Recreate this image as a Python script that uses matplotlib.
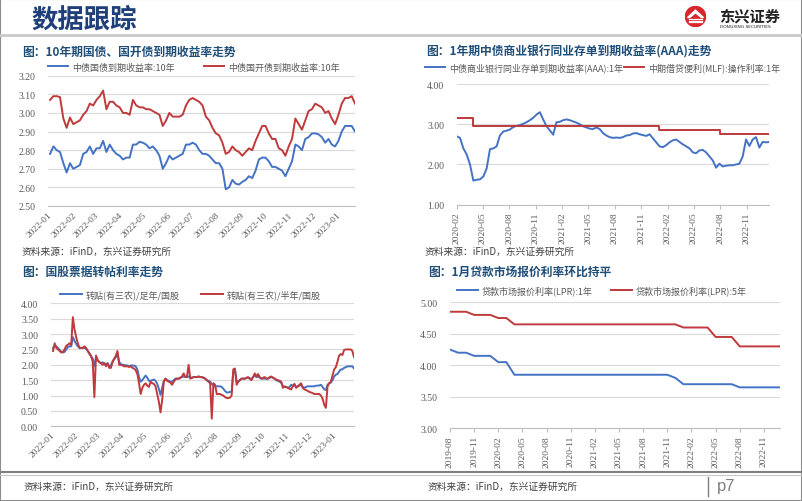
import numpy as np
import pandas as pd
import matplotlib
matplotlib.use('Agg')
import matplotlib.pyplot as plt
from matplotlib.ticker import FormatStrFormatter
from matplotlib.lines import Line2D
from matplotlib.patches import Circle, Rectangle, Polygon

# ---- data ----
# panel 1: 10y yields, 2022-01 .. 2023-01
cgb_10y = [2.78, 2.82, 2.80, 2.79, 2.73, 2.68, 2.73, 2.70, 2.71, 2.72,
           2.78, 2.79, 2.82, 2.78, 2.81, 2.81, 2.85, 2.79, 2.83, 2.80,
           2.78, 2.77, 2.75, 2.76, 2.76, 2.83, 2.83, 2.845, 2.84, 2.83,
           2.81, 2.82, 2.80, 2.77, 2.70, 2.73, 2.77, 2.75, 2.76, 2.77,
           2.78, 2.83, 2.83, 2.84, 2.83, 2.80, 2.78, 2.78, 2.77, 2.75,
           2.73, 2.73, 2.70, 2.59, 2.60, 2.64, 2.62, 2.615, 2.63, 2.64,
           2.66, 2.65, 2.69, 2.75, 2.76, 2.76, 2.74, 2.71, 2.71, 2.70,
           2.69, 2.66, 2.70, 2.74, 2.83, 2.82, 2.80, 2.86, 2.87, 2.89,
           2.89, 2.885, 2.87, 2.84, 2.86, 2.83, 2.82, 2.85, 2.90, 2.93,
           2.93, 2.93, 2.90]
cdb_10y = [3.07, 3.09, 3.09, 3.085, 2.97, 2.92, 2.975, 2.94, 2.95, 2.96,
           2.99, 3.01, 3.05, 3.04, 3.07, 3.09, 3.12, 3.02, 3.06, 3.06,
           3.04, 3.03, 3.00, 3.00, 2.99, 3.07, 3.04, 3.03, 3.03, 3.02,
           3.02, 3.01, 3.00, 2.99, 2.93, 2.96, 3.00, 2.98, 2.98, 2.98,
           2.99, 3.04, 3.07, 3.08, 3.07, 3.06, 3.04, 2.98, 2.96, 2.92,
           2.89, 2.88, 2.84, 2.78, 2.79, 2.82, 2.80, 2.79, 2.77, 2.79,
           2.81, 2.80, 2.85, 2.89, 2.93, 2.93, 2.89, 2.86, 2.86, 2.81,
           2.80, 2.77, 2.82, 2.86, 2.97, 2.94, 2.91, 2.96, 3.01, 3.02,
           3.05, 3.04, 3.03, 3.00, 3.01, 2.97, 2.94, 2.99, 3.05, 3.08,
           3.08, 3.09, 3.05]

# panel 2: 1y AAA NCD yield and MLF rate
ncd_1y = [2.70, 2.66, 2.40, 2.25, 2.00, 1.60, 1.62, 1.63, 1.70, 1.90,
          2.38, 2.40, 2.45, 2.72, 2.82, 2.84, 2.87, 2.93, 2.96, 2.98,
          3.01, 3.05, 3.10, 3.16, 3.24, 3.30, 3.12, 2.95, 2.85, 2.74,
          3.05, 3.06, 3.10, 3.12, 3.10, 3.07, 3.04, 3.00, 2.95, 2.92,
          2.89, 2.88, 2.92, 2.88, 2.78, 2.72, 2.68, 2.66, 2.67, 2.66,
          2.68, 2.72, 2.73, 2.77, 2.78, 2.75, 2.73, 2.71, 2.75, 2.65,
          2.55, 2.45, 2.43, 2.48, 2.55, 2.60, 2.62, 2.56, 2.50, 2.45,
          2.40, 2.30, 2.28, 2.35, 2.36, 2.30, 2.20, 2.10, 1.92, 2.02,
          1.95, 1.97, 1.98, 1.98, 2.00, 2.02, 2.20, 2.62, 2.46, 2.62,
          2.68, 2.42, 2.56, 2.55, 2.56]
mlf_dates = ['2020-02-17', '2020-04-15', '2022-01-17', '2022-08-15', '2023-02-03']
mlf_rate = [3.15, 2.95, 2.85, 2.75, 2.75]

# panel 3: bill rediscount rates
bill_full = [2.55, 2.62, 2.60, 2.55, 2.48, 2.43, 2.40, 2.42, 2.50, 2.58,
             2.60, 2.60, 2.90, 2.78, 2.68, 2.60, 2.55, 2.55, 2.55, 2.55,
             2.52, 2.45, 2.35, 2.28, 2.20, 1.95, 2.25, 2.15, 2.10, 2.05,
             2.08, 2.05, 2.02, 2.05, 1.95, 1.98, 2.10, 2.18, 2.25, 2.35,
             2.10, 2.02, 2.00, 2.00, 1.98, 1.98, 1.95, 1.98, 1.98, 1.97,
             1.95, 1.85, 1.60, 1.45, 1.50, 1.58, 1.65, 1.58, 1.48, 1.48,
             1.50, 1.52, 1.48, 1.38, 1.22, 1.02, 1.25, 1.48, 1.55, 1.50,
             1.48, 1.45, 1.45, 1.50, 1.55, 1.55, 1.55, 1.58, 1.60, 1.62,
             1.60, 1.60, 1.62, 1.58, 1.58, 1.60, 1.60, 1.60, 1.62, 1.60,
             1.60, 1.58, 1.55, 1.50, 1.48, 1.45, 1.38, 1.32, 1.30, 1.30,
             1.30, 1.30, 1.28, 1.22, 1.15, 1.10, 1.10, 1.12, 1.12, 1.75,
             1.85, 1.48, 1.45, 1.50, 1.55, 1.55, 1.55, 1.57, 1.58, 1.55,
             1.55, 1.60, 1.65, 1.60, 1.62, 1.58, 1.55, 1.55, 1.55, 1.55,
             1.55, 1.58, 1.60, 1.58, 1.55, 1.50, 1.48, 1.45, 1.42, 1.30,
             1.28, 1.28, 1.25, 1.28, 1.35, 1.32, 1.35, 1.28, 1.30, 1.32,
             1.35, 1.28, 1.25, 1.28, 1.30, 1.30, 1.30, 1.30, 1.30, 1.32,
             1.32, 1.33, 1.35, 1.28, 1.20, 1.18, 1.35, 1.40, 1.42, 1.50,
             1.62, 1.68, 1.70, 1.78, 1.85, 1.85, 1.90, 1.92, 1.95, 1.95,
             1.95, 1.95, 1.88]
bill_half = [2.45, 2.70, 2.55, 2.50, 2.45, 2.40, 2.42, 2.50, 2.62, 2.65,
             2.70, 2.65, 3.55, 3.15, 2.90, 2.70, 2.55, 2.55, 2.55, 2.60,
             2.55, 2.45, 2.38, 2.28, 2.10, 0.95, 2.30, 2.15, 2.08, 2.05,
             2.00, 2.05, 1.95, 2.05, 1.90, 1.90, 2.10, 2.20, 2.30, 2.45,
             2.00, 2.00, 1.98, 1.95, 1.95, 1.95, 1.93, 1.95, 1.90, 1.88,
             1.82, 1.70, 1.40, 1.05, 1.25, 1.35, 1.40, 1.32, 1.28, 1.45,
             1.40, 1.38, 1.30, 1.05, 0.80, 0.45, 0.85, 1.45, 1.55, 1.48,
             1.45, 1.42, 1.35, 1.45, 1.52, 1.55, 1.55, 1.58, 1.62, 1.72,
             1.60, 1.62, 2.00, 1.55, 1.58, 1.60, 1.60, 1.60, 1.62, 1.60,
             1.60, 1.58, 1.55, 1.50, 1.45, 1.40, 0.25, 1.40, 1.35, 1.05,
             1.05, 1.05, 1.02, 1.00, 0.95, 0.92, 0.92, 0.93, 1.00, 1.85,
             1.88, 1.35, 1.45, 1.50, 1.55, 1.55, 1.55, 1.58, 1.60, 1.55,
             1.50, 1.60, 1.72, 1.62, 1.70, 1.60, 1.55, 1.58, 1.60, 1.55,
             1.55, 1.60, 1.62, 1.58, 1.55, 1.52, 1.50, 1.48, 1.45, 1.25,
             1.30, 1.28, 1.25, 1.22, 1.20, 1.30, 1.38, 1.25, 1.30, 1.35,
             1.40, 1.25, 1.20, 1.18, 1.15, 1.12, 1.10, 1.08, 1.05, 1.05,
             1.05, 1.05, 1.00, 0.90, 0.70, 0.60, 1.30, 1.40, 1.45, 1.65,
             1.85, 1.92, 2.10, 2.30, 2.35, 2.32, 2.48, 2.50, 2.50, 2.50,
             2.50, 2.45, 2.25]

# panel 4: monthly LPR, 2019-08 .. 2023-01
lpr_months = pd.period_range('2019-08', '2023-01', freq='M').strftime('%Y-%m').tolist()
lpr_1y = [4.25, 4.20, 4.20, 4.15, 4.15,
          4.15, 4.05, 4.05, 3.85, 3.85, 3.85, 3.85, 3.85, 3.85, 3.85, 3.85, 3.85,
          3.85, 3.85, 3.85, 3.85, 3.85, 3.85, 3.85, 3.85, 3.85, 3.85, 3.85, 3.80,
          3.70, 3.70, 3.70, 3.70, 3.70, 3.70, 3.70, 3.65, 3.65, 3.65, 3.65, 3.65,
          3.65]
lpr_5y = [4.85, 4.85, 4.85, 4.80, 4.80,
          4.80, 4.75, 4.75, 4.65, 4.65, 4.65, 4.65, 4.65, 4.65, 4.65, 4.65, 4.65,
          4.65, 4.65, 4.65, 4.65, 4.65, 4.65, 4.65, 4.65, 4.65, 4.65, 4.65, 4.65,
          4.60, 4.60, 4.60, 4.60, 4.45, 4.45, 4.45, 4.30, 4.30, 4.30, 4.30, 4.30,
          4.30]

# ---- figure ----
W, H = 802, 502
fig = plt.figure(figsize=(W / 100, H / 100), dpi=100)
CJK = ['Noto Sans CJK SC', 'DejaVu Sans']
BLUE, RED = '#4472C4', '#C0393B'
TITLE_C = '#1F4E79'
TICK_C = '#595959'


def box(l, t, r, b):
    return [l / W, 1 - b / H, (r - l) / W, (b - t) / H]


def ftext(x, y, s, **kw):
    fig.text(x / W, 1 - y / H, s, **kw)


def hline(x0, x1, y, **kw):
    fig.add_artist(Line2D([x0 / W, x1 / W], [1 - y / H, 1 - y / H],
                          transform=fig.transFigure, **kw))


def style(ax, ylim, yticks):
    ax.set_ylim(*ylim)
    ax.set_yticks(yticks)
    ax.yaxis.set_major_formatter(FormatStrFormatter('%.2f'))
    ax.grid(axis='y', color='#D9D9D9', lw=0.8)
    ax.set_axisbelow(True)
    for s in ['top', 'right', 'left']:
        ax.spines[s].set_visible(False)
    ax.spines['bottom'].set_color('#BFBFBF')
    ax.spines['bottom'].set_linewidth(0.8)
    ax.tick_params(axis='y', length=0, pad=9, labelsize=7,
                   labelcolor=TICK_C, labelfontfamily='Liberation Serif')
    ax.tick_params(axis='x', labelsize=6.8, labelcolor=TICK_C,
                   labelfontfamily='Liberation Serif', color='#BFBFBF')


def legend(ax, x, y, hl, colsp):
    ax.legend(loc='center left', bbox_to_anchor=(x / W, 1 - y / H),
              bbox_transform=fig.transFigure, ncol=2, frameon=False,
              prop={'family': CJK, 'size': 6.5}, labelcolor=TICK_C,
              handlelength=hl, handletextpad=0.45, columnspacing=colsp,
              borderpad=0, borderaxespad=0)


def rot45(ax):
    for lab in ax.get_xticklabels():
        lab.set_rotation(45)
        lab.set_ha('right')
        lab.set_rotation_mode('anchor')


# panel 1
ax1 = fig.add_axes(box(47.7, 76.7, 355, 207))
d1 = pd.date_range('2022-01-04', '2023-01-24', periods=len(cgb_10y))
ax1.plot(d1, cgb_10y, color=BLUE, lw=1.4, label='中债国债到期收益率:10年')
ax1.plot(d1, cdb_10y, color=RED, lw=1.4, label='中债国开债到期收益率:10年')
style(ax1, (2.5, 3.2), np.arange(2.5, 3.21, 0.1))
ax1.set_xlim(pd.Timestamp('2022-01-01'), pd.Timestamp('2023-01-24'))
m1 = pd.date_range('2022-01-01', '2023-01-01', freq='MS')
ax1.set_xticks(m1)
ax1.set_xticklabels(m1.strftime('%Y-%m'))
ax1.tick_params(axis='x', length=0, pad=3)
rot45(ax1)
legend(ax1, 48, 68, 2.2, 3.3)

# panel 2
ax2 = fig.add_axes(box(456.7, 85, 769.3, 205.7))
d2 = pd.date_range('2020-02-17', '2023-02-03', periods=len(ncd_1y))
ax2.plot(d2, ncd_1y, color=BLUE, lw=1.4, label='中债商业银行同业存单到期收益率(AAA):1年')
ax2.plot(pd.to_datetime(mlf_dates), mlf_rate, color=RED, lw=1.4,
         drawstyle='steps-post', label='中期借贷便利(MLF):操作利率:1年')
style(ax2, (1, 4), [1, 2, 3, 4])
ax2.set_xlim(pd.Timestamp('2020-02-17'), pd.Timestamp('2023-02-03'))
m2 = pd.date_range('2020-02-17', periods=12, freq=pd.DateOffset(months=3))
ax2.set_xticks(m2)
ax2.set_xticklabels(m2.strftime('%Y-%m'), rotation=90)
ax2.tick_params(axis='x', length=3, pad=2)
legend(ax2, 425, 68, 2.2, 0.15)

# panel 3
ax3 = fig.add_axes(box(50.7, 304.3, 354, 427.3))
d3 = pd.date_range('2022-01-04', '2023-01-28', periods=len(bill_full))
ax3.plot(d3, bill_full, color=BLUE, lw=1.4, label='转贴(有三农)/足年/国股')
ax3.plot(d3, bill_half, color=RED, lw=1.4, label='转贴(有三农)/半年/国股')
style(ax3, (0, 4), np.arange(0, 4.01, 0.5))
ax3.set_xlim(pd.Timestamp('2022-01-01'), pd.Timestamp('2023-01-28'))
ax3.set_xticks(m1)
ax3.set_xticklabels(m1.strftime('%Y-%m'))
ax3.tick_params(axis='x', length=0, pad=3)
rot45(ax3)
legend(ax3, 60, 295, 2.4, 2.4)

# panel 4
ax4 = fig.add_axes(box(450, 303.3, 780, 429.3))
x4 = np.arange(len(lpr_months))
ax4.plot(x4, lpr_1y, color=BLUE, lw=1.4, label='贷款市场报价利率(LPR):1年')
ax4.plot(x4, lpr_5y, color=RED, lw=1.4, label='贷款市场报价利率(LPR):5年')
style(ax4, (3, 5), np.arange(3, 5.01, 0.5))
ax4.set_xlim(0, len(lpr_months) - 1)
ax4.set_xticks(x4[::3])
ax4.set_xticklabels(lpr_months[::3], rotation=90)
ax4.tick_params(axis='x', length=3, pad=2)
legend(ax4, 457, 291, 2.3, 2.0)

# titles and sources
tkw = dict(fontsize=8.5, fontweight='bold', color=TITLE_C, family=CJK, va='center')
ftext(22, 52, '图：10年期国债、国开债到期收益率走势', **tkw)
ftext(426, 52, '图：1年期中债商业银行同业存单到期收益率(AAA)走势', **tkw)
ftext(22, 272, '图：国股票据转帖利率走势', **tkw)
ftext(428, 272, '图：1月贷款市场报价利率环比持平', **tkw)
skw = dict(fontsize=7, color='#404040', family=CJK, va='center')
src = '资料来源：iFinD，东兴证券研究所'
ftext(22, 252, src, **skw)
ftext(425, 252, src, **skw)
ftext(24, 487, src, **skw)
ftext(428, 487, src, **skw)

# header
ftext(31, 20, '数据跟踪', fontsize=19, fontweight='bold', color='#1F3F7A',
      family=CJK, va='center')
hline(0, W, 36, color='#C9C9C9', lw=2)

# logo
lax = fig.add_axes(box(685, 7, 706, 28))
lax.set_xlim(0, 1)
lax.set_ylim(0, 1)
lax.set_aspect('equal')
lax.axis('off')
lax.add_patch(Circle((0.5, 0.5), 0.48, color='#D7262C'))
lax.add_patch(Polygon([[0.12, 0.45], [0.5, 0.8], [0.88, 0.45], [0.78, 0.45],
                       [0.5, 0.68], [0.22, 0.45]], color='white'))
for yy in [0.38, 0.3, 0.22]:
    lax.plot([0.18, 0.82], [yy, yy], color='white', lw=0.9)
ftext(719, 17, '东兴证券', fontsize=11, fontweight='bold', color='#222222',
      family=CJK, va='center')
ftext(720, 27, 'DONGXING SECURITIES', fontsize=3.2, color='#222222',
      family='DejaVu Sans', va='center')

# footer
hline(0, W, 473, color='#7F7F7F', lw=1.5)
hline(0, W, 476, color='#C8C8C8', lw=0.8)
fig.add_artist(Line2D([708 / W, 708 / W], [1 - 478 / H, 1 - 497 / H],
                      transform=fig.transFigure, color='#7F7F7F', lw=1))
ftext(717, 487, 'p7', fontsize=12, color='#7F7F7F', family='Liberation Sans',
      va='center')

fig.add_artist(Rectangle((0, 0), 1, 1, transform=fig.transFigure, fill=False,
                         edgecolor='#8C8C8C', lw=1.5))

fig.savefig('out.png', dpi=100)
